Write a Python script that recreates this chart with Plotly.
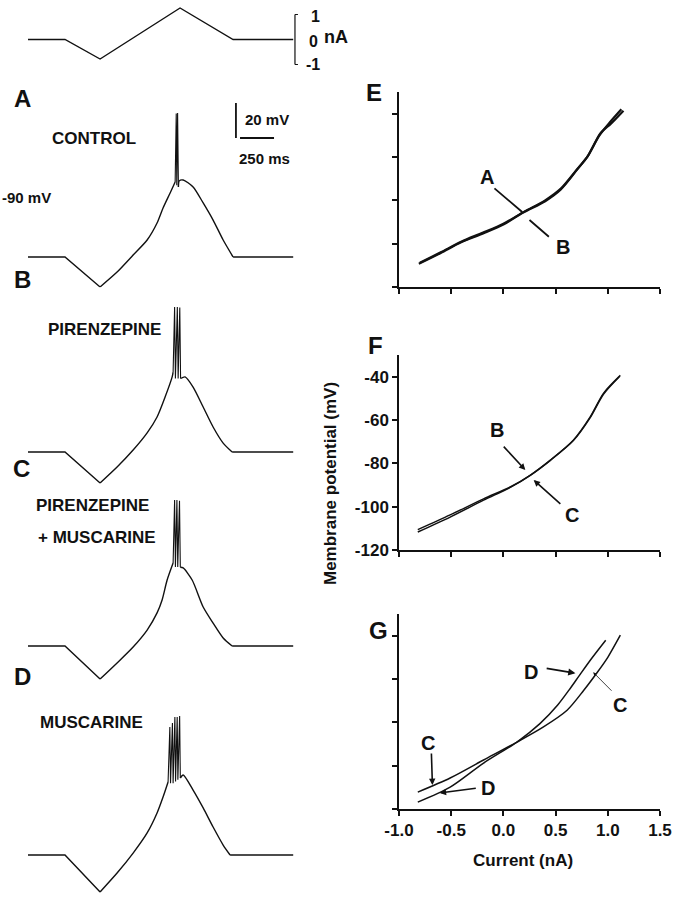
import plotly.graph_objects as go

W, H = 678, 900
FONT = "Liberation Sans, Arial, sans-serif"
INK = "#111111"

# stimulus (ms, nA)
stim_t = [0, 272, 530, 1118, 1508, 1950]
stim_i = [0, 0, -0.78, 1.26, 0, 0]

# voltage traces (ms, mV)
a_t = [0, 272, 530, 655, 773, 876, 949, 993, 1045, 1082, 1090, 1094, 1100, 1106, 1112, 1141, 1214, 1288, 1361, 1435, 1508, 1950]
a_v = [-88, -88, -105.1, -96.6, -86.9, -78.3, -68.6, -60, -51.4, -45.1, -6, -47, -5.7, -48, -44.5, -44, -48, -57.1, -66.9, -78.3, -88, -88]

b_t = [0, 272, 530, 655, 773, 876, 949, 1008, 1060, 1067, 1078, 1084, 1098, 1104, 1116, 1122, 1155, 1214, 1288, 1361, 1435, 1501, 1950]
b_v = [-88, -88, -105.7, -96.6, -86.9, -77.1, -68, -56.6, -45.1, -42.3, -5.1, -46, -5.1, -46, -5.5, -46, -45.1, -50.9, -62.3, -73.7, -82.9, -88, -88]

c_t = [0, 272, 530, 655, 773, 876, 949, 986, 1023, 1067, 1078, 1084, 1095, 1101, 1114, 1120, 1141, 1207, 1288, 1361, 1435, 1501, 1950]
c_v = [-88, -88, -106.9, -97.7, -88.6, -78.9, -69.1, -61.7, -50.3, -40.6, -4.6, -42.9, -4.6, -42.9, -5, -43, -43.4, -50.3, -65.7, -74.9, -83.4, -88, -88]

d_t = [0, 272, 530, 655, 773, 876, 949, 993, 1030, 1043, 1048, 1062, 1067, 1080, 1085, 1097, 1102, 1115, 1120, 1141, 1214, 1288, 1361, 1435, 1486, 1950]
d_v = [-88, -88, -109.1, -98.3, -86.9, -75.4, -64, -54.9, -46.3, -14.9, -47, -12.6, -47, -9.1, -46, -9.1, -45, -8.6, -44, -42.3, -50.9, -61.1, -72, -82.3, -88, -88]

# I-V relations (nA, mV)
e_i_a = [-0.81, -0.6, -0.41, -0.2, 0.0, 0.19, 0.4, 0.55, 0.71, 0.81, 0.93, 1.03, 1.15]
e_v_a = [-109.3, -104.3, -99.5, -95.4, -91.2, -85.6, -80.4, -75.0, -65.6, -59.5, -49.0, -44.6, -38.6]
e_i_b = [-0.8, -0.6, -0.4, -0.2, 0.0, 0.2, 0.4, 0.55, 0.7, 0.8, 0.92, 1.02, 1.13]
e_v_b = [-108.8, -104.0, -99.0, -95.0, -90.8, -85.2, -80.0, -74.6, -66.0, -60.2, -50.0, -44.0, -38.0]

f_i_b = [-0.82, -0.51, -0.19, 0.07, 0.26, 0.45, 0.67, 0.83, 0.96, 1.12]
f_v_b = [-111.7, -104.8, -97.0, -91.0, -85.4, -78.5, -69.3, -58.7, -47.6, -39.4]
f_i_c = [-0.82, -0.51, -0.19, 0.07, 0.26, 0.45, 0.67, 0.83, 0.96, 1.11]
f_v_c = [-110.6, -103.8, -96.4, -90.8, -85.4, -78.6, -69.5, -59.0, -48.0, -40.0]

g_i_c = [-0.82, -0.51, -0.19, 0.13, 0.38, 0.61, 0.77, 0.9, 1.0, 1.12]
g_v_c = [-112.2, -105.7, -97.4, -89.1, -82.2, -74.4, -65.2, -56.9, -50.0, -39.8]
g_i_d = [-0.82, -0.51, -0.19, 0.13, 0.35, 0.52, 0.63, 0.73, 0.85, 0.98]
g_v_d = [-116.8, -109.9, -98.8, -89.1, -80.6, -72.0, -65.0, -58.2, -50.2, -42.1]

iv_ticks_x = [-1.0, -0.5, 0.0, 0.5, 1.0, 1.5]
iv_ticks_y = [-120, -100, -80, -60, -40]


def px(x):
    return x / W


def py(y):
    return 1 - y / H


fig = go.Figure()

straight = dict(color=INK, width=1.4)
spikes = dict(color=INK, width=1.1)
curved = dict(color=INK, width=1.4, shape="spline", smoothing=0.7)
fig.add_trace(go.Scatter(x=stim_t, y=stim_i, mode="lines", line=straight, xaxis="x", yaxis="y"))
for n, (t, v) in enumerate([(a_t, a_v), (b_t, b_v), (c_t, c_v), (d_t, d_v)], start=2):
    # ramps and spikes drawn straight, slow rise and decay smoothed (first/last index inclusive)
    peaks = [k for k, val in enumerate(v) if val > -30]
    lo = v.index(min(v))
    back = len(v) - 2
    pieces = [(0, lo, straight), (lo, peaks[0] - 1, curved), (peaks[0] - 1, peaks[-1] + 1, spikes),
              (peaks[-1] + 1, back, curved), (back, len(v) - 1, straight)]
    for k0, k1, ln in pieces:
        fig.add_trace(go.Scatter(x=t[k0:k1 + 1], y=v[k0:k1 + 1], mode="lines", line=ln,
                                 xaxis=f"x{n}", yaxis=f"y{n}"))

iv_sets = [(6, [(e_i_a, e_v_a), (e_i_b, e_v_b)], 2.2),
           (7, [(f_i_b, f_v_b), (f_i_c, f_v_c)], 1.5),
           (8, [(g_i_c, g_v_c), (g_i_d, g_v_d)], 1.5)]
for n, curves, w in iv_sets:
    for i, v in curves:
        fig.add_trace(go.Scatter(x=i, y=v, mode="lines", line=dict(color=INK, width=w, shape="spline", smoothing=0.8),
                                 xaxis=f"x{n}", yaxis=f"y{n}"))

layout = dict(width=W, height=H, margin=dict(l=0, r=0, t=0, b=0, pad=0, autoexpand=False), showlegend=False,
              template="none", plot_bgcolor="white", paper_bgcolor="white", font=dict(family=FONT, color=INK))

hidden = dict(visible=False, showgrid=False, zeroline=False, automargin=False)
left_dom = [px(28), px(300)]
layout["xaxis"] = dict(hidden, domain=left_dom, range=[0, 2000])
layout["yaxis"] = dict(hidden, domain=[py(67), py(4.5)], range=[-1.1, 1.4])
for n, base in zip(range(2, 6), [257, 452, 646, 855]):
    layout[f"xaxis{n}"] = dict(hidden, domain=left_dom, range=[0, 2000])
    layout[f"yaxis{n}"] = dict(hidden, domain=[py(base + 42), py(base - 164.5)], range=[-112, 6])

tickfont = dict(size=17, family=FONT, color=INK, weight="bold")
iv_common = dict(showgrid=False, zeroline=False, showline=True, linecolor=INK, linewidth=1.5, automargin=False,
                 ticks="outside", ticklen=5, tickwidth=1.5, tickcolor=INK, tickfont=tickfont)
iv_dom = {6: (287, 92), 7: (550, 355), 8: (809, 614)}
for n, (bot, top) in iv_dom.items():
    layout[f"xaxis{n}"] = dict(iv_common, domain=[px(399), px(660)], range=[-1.0, 1.5], anchor=f"y{n}",
                               tickvals=iv_ticks_x, ticktext=[f"{v:.1f}" for v in iv_ticks_x],
                               showticklabels=(n == 8))
    layout[f"yaxis{n}"] = dict(iv_common, domain=[py(bot), py(top)], range=[-120, -30], anchor=f"x{n}",
                               tickvals=iv_ticks_y, ticktext=[str(v) for v in iv_ticks_y],
                               showticklabels=(n == 7))
fig.update_layout(**layout)

# scale bars
shapes = [
    dict(type="line", xref="x", yref="y", x0=1963, x1=1963, y0=-1, y1=1, line=dict(color=INK, width=1.2)),
    dict(type="line", xref="x", yref="y", x0=1963, x1=1985, y0=1, y1=1, line=dict(color=INK, width=1.2)),
    dict(type="line", xref="x", yref="y", x0=1963, x1=1985, y0=-1, y1=-1, line=dict(color=INK, width=1.2)),
    dict(type="line", xref="x2", yref="y2", x0=1529, x1=1529, y0=-20, y1=0, line=dict(color=INK, width=1.8)),
    dict(type="line", xref="x2", yref="y2", x0=1559, x1=1809, y0=-20, y1=-20, line=dict(color=INK, width=1.8)),
]
fig.update_layout(shapes=shapes)


def label(text, x, y, size=17, xanchor="center", **kw):
    fig.add_annotation(text=f"<b>{text}</b>", x=px(x), y=py(y), xref="paper", yref="paper",
                       xanchor=xanchor, yanchor="middle", showarrow=False,
                       font=dict(size=size, family=FONT, color=INK), **kw)


for t, x, y in [("A", 22, 98), ("B", 22, 279), ("C", 21, 468), ("D", 22, 676),
                ("E", 374, 92), ("F", 375, 345), ("G", 378, 630)]:
    label(t, x, y, size=24)

label("CONTROL", 94, 139)
label("PIRENZEPINE", 104, 329)
label("PIRENZEPINE", 92, 505)
label("+ MUSCARINE", 97, 537)
label("MUSCARINE", 91, 722)
label("-90 mV", 0, 197, size=15, xanchor="left")
label("20 mV", 243, 120, size=15, xanchor="left")
label("250 ms", 237, 158, size=15, xanchor="left")
label("1", 315, 17, size=16)
label("0", 313, 41, size=16)
label("nA", 336, 37, size=18)
label("-1", 313, 65, size=16)
label("Membrane potential (mV)", 330, 484, size=17, textangle=-90)
label("Current (nA)", 523, 860, size=17)

# curve labels with pointer lines, in data units of each panel
pointers = [
    # panel, text, text pos, tail, head, arrowhead, width
    (6, "A", (-0.16, -69.3), (-0.10, -73.9), (0.18, -85.4), 0, 1.8),
    (6, "B", (0.57, -101.6), (0.45, -97.4), (0.25, -89.1), 0, 1.8),
    (7, "B", (-0.06, -64.7), (-0.01, -71.6), (0.21, -83.1), 2, 1.6),
    (7, "C", (0.66, -103.9), (0.56, -99.3), (0.29, -87.7), 2, 1.6),
    (8, "D", (0.26, -56.9), (0.40, -55.0), (0.69, -57.3), 2, 1.8),
    (8, "C", (1.12, -72.1), (1.05, -66.1), (0.86, -56.9), 2, 0.8),
    (8, "C", (-0.72, -89.6), (-0.69, -93.7), (-0.68, -108.9), 2, 1.6),
    (8, "D", (-0.15, -110.3), (-0.25, -110.3), (-0.61, -112.6), 2, 1.6),
]
for n, text, (tx, ty), (ax, ay), (hx, hy), head, w in pointers:
    fig.add_annotation(text=f"<b>{text}</b>", x=tx, y=ty, xref=f"x{n}", yref=f"y{n}", showarrow=False,
                       xanchor="center", yanchor="middle", font=dict(size=20, family=FONT, color=INK))
    fig.add_annotation(text="", x=hx, y=hy, ax=ax, ay=ay, xref=f"x{n}", yref=f"y{n}",
                       axref=f"x{n}", ayref=f"y{n}", showarrow=True, arrowhead=head,
                       arrowsize=0.8, arrowwidth=w, arrowcolor=INK, standoff=0, startstandoff=0)

# page body margin would push the fixed-size figure 8px off
fig.write_html("out.html", config={"displayModeBar": False},
               post_script="document.body.style.margin = '0';")
